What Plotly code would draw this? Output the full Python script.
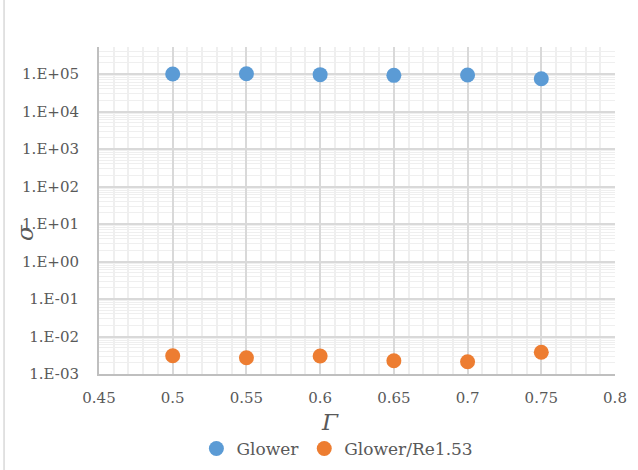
import plotly.graph_objects as go

# Gamma values and sigma for the two series
gamma = [0.5, 0.55, 0.6, 0.65, 0.7, 0.75]
sigma_glower = [1.0e5, 1.02e5, 9.6e4, 9.2e4, 9.4e4, 7.5e4]
sigma_glower_re = [3.08e-3, 2.72e-3, 3.02e-3, 2.26e-3, 2.13e-3, 3.79e-3]

y_tickvals = [1e-3, 1e-2, 1e-1, 1e0, 1e1, 1e2, 1e3, 1e4, 1e5]
y_ticktext = ["1.E-03", "1.E-02", "1.E-01", "1.E+00", "1.E+01",
              "1.E+02", "1.E+03", "1.E+04", "1.E+05"]
x_tickvals = [0.45, 0.5, 0.55, 0.6, 0.65, 0.7, 0.75, 0.8]
x_ticktext = ["0.45", "0.5", "0.55", "0.6", "0.65", "0.7", "0.75", "0.8"]

FONT = "DejaVu Serif"
TXT = "#595959"

fig = go.Figure()
fig.add_trace(go.Scatter(x=gamma, y=sigma_glower, mode="markers", name="Glower",
                         marker=dict(color="#5b9bd5", size=15)))
fig.add_trace(go.Scatter(x=gamma, y=sigma_glower_re, mode="markers", name="Glower/Re1.53",
                         marker=dict(color="#ed7d31", size=15)))

fig.update_layout(
    width=638, height=470,
    margin=dict(l=99, r=23, t=47, b=96, autoexpand=False),
    paper_bgcolor="white", plot_bgcolor="white",
    font=dict(family=FONT, size=15, color=TXT),
    showlegend=True,
    legend=dict(orientation="h", x=0.462, xanchor="center", y=-0.229, yanchor="middle",
                font=dict(family=FONT, size=17, color=TXT), itemwidth=30,
                tracegroupgap=0),
    shapes=[dict(type="rect", xref="paper", yref="paper",
                 x0=-0.184, x1=1.1, y0=-0.4, y1=1.16,
                 line=dict(color="#d9d9d9", width=1.5))],
    annotations=[
        dict(text="<i>Γ</i>", xref="paper", yref="paper", x=(330 - 99) / 516, y=(374 - 422) / 327,
             xanchor="center", yanchor="middle", showarrow=False,
             font=dict(family=FONT, size=23, color=TXT)),
        dict(text="<i>σ</i>", xref="paper", yref="paper", x=(25 - 99) / 516, y=(374 - 233) / 327,
             xanchor="center", yanchor="middle", showarrow=False, textangle=-90,
             font=dict(family=FONT, size=23, color=TXT)),
    ],
)

fig.update_xaxes(
    range=[0.45, 0.8], tickvals=x_tickvals, ticktext=x_ticktext,
    showgrid=True, gridcolor="#d9d9d9", gridwidth=1.5,
    minor=dict(dtick=0.01, showgrid=True, gridcolor="#efefef", gridwidth=1.5),
    showline=True, linecolor="#bfbfbf", linewidth=2,
    ticks="", ticklabelstandoff=9, zeroline=False, automargin=False,
    tickfont=dict(family=FONT, size=15, color=TXT),
)
fig.update_yaxes(
    type="log", range=[-3, 5.72], tickvals=y_tickvals, ticktext=y_ticktext,
    showgrid=True, gridcolor="#d9d9d9", gridwidth=1.5,
    minor=dict(dtick="D1", showgrid=True, gridcolor="#efefef", gridwidth=1),
    showline=True, linecolor="#bfbfbf", linewidth=2,
    ticks="", ticklabelstandoff=15, zeroline=False, automargin=False,
    tickfont=dict(family=FONT, size=15, color=TXT),
)

fig.write_html("out.html")
